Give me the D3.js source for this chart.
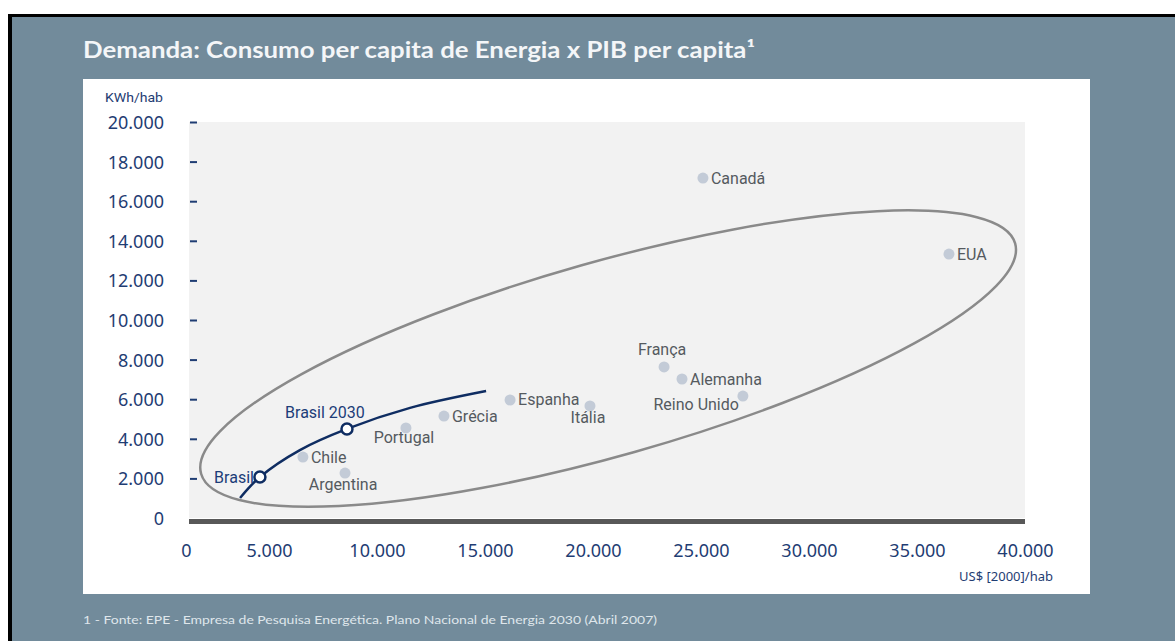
<!DOCTYPE html>
<html>
<head>
<meta charset="utf-8">
<script src="https://cdn.jsdelivr.net/npm/d3@7"></script>
<style>
  body { margin: 0; background: #fff; }
  svg { display: block; }
</style>
</head>
<body>
<div id="chart"></div>
<script>
// countries (grey dots)
var countries = ['Chile', 'Argentina', 'Portugal', 'Grécia', 'Espanha', 'Itália',
	'França', 'Alemanha', 'Reino Unido', 'Canadá', 'EUA'];
var pibPerCapita = [6570, 8520, 11340, 13100, 16160, 19860, 23290, 24120, 26940, 25090, 36480];
var consumoPerCapita = [3080, 2270, 4550, 5150, 5960, 5660, 7630, 7020, 6160, 17170, 13330];
var labelSide = ['right', 'below', 'below', 'right', 'right', 'below',
	'above', 'right', 'left', 'right', 'right'];

// Brasil trajectory
var brasilPib = [3660, 4580, 6430, 8610, 11530, 15050];
var brasilConsumo = [1010, 2070, 3430, 4500, 5560, 6410];
var brasilMarks = ['Brasil', 'Brasil 2030'];
var brasilMarkPib = [4580, 8610];
var brasilMarkConsumo = [2070, 4500];

var xTicks = [0, 5000, 10000, 15000, 20000, 25000, 30000, 35000, 40000];
var yTicks = [0, 2000, 4000, 6000, 8000, 10000, 12000, 14000, 16000, 18000, 20000];

// cluster ellipse (centre in data units)
var clusterCentre = [20700, 8050];

var W = 1175, H = 641;
var navy = '#0f2d62', tickBlue = '#1f3d73', dotGrey = '#c3cbd7', labelGrey = '#555a5f';

var ptBR = d3.formatLocale({ decimal: ',', thousands: '.', grouping: [3], currency: ['', ''] });
var fmt = ptBR.format(',');

var svg = d3.select('#chart').append('svg').attr('width', W).attr('height', H);

// frame + slide background
svg.append('rect').attr('x', 8).attr('y', 14).attr('width', W - 8).attr('height', H - 14).attr('fill', '#000');
svg.append('rect').attr('x', 12).attr('y', 17).attr('width', W - 12).attr('height', H - 17).attr('fill', '#728b9b');

svg.append('text')
	.attr('x', 83).attr('y', 58)
	.attr('fill', '#f4f6f8')
	.attr('font-family', 'Lato, "Open Sans", sans-serif')
	.attr('font-weight', 'bold')
	.attr('font-size', 23)
	.attr('textLength', 672)
	.attr('lengthAdjust', 'spacingAndGlyphs')
	.text('Demanda: Consumo per capita de Energia x PIB per capita¹');

svg.append('text')
	.attr('x', 83).attr('y', 624)
	.attr('fill', '#dfe6eb')
	.attr('font-family', 'Lato, "Open Sans", sans-serif')
	.attr('font-size', 11)
	.attr('textLength', 574)
	.attr('lengthAdjust', 'spacingAndGlyphs')
	.text('1 - Fonte: EPE - Empresa de Pesquisa Energética. Plano Nacional de Energia 2030 (Abril 2007)');

// white panel
svg.append('rect').attr('x', 83).attr('y', 79).attr('width', 1007).attr('height', 515).attr('fill', '#fff');

// scales
var x = d3.scaleLinear().domain([0, 40000]).range([161, 1025]);
var y = d3.scaleLinear().domain([0, 20000]).range([518, 122]);

// plot background
svg.append('rect').attr('x', 189).attr('y', y(20000))
	.attr('width', 1025 - 189).attr('height', y(0) - y(20000))
	.attr('fill', '#f2f2f2');
svg.append('rect').attr('x', 189).attr('y', y(0) + 1)
	.attr('width', 1025 - 189).attr('height', 5)
	.attr('fill', '#585858');

// y axis
var yAxis = d3.axisLeft(y).tickValues(yTicks).tickFormat(fmt).tickSize(7).tickPadding(26);
var gy = svg.append('g').attr('transform', 'translate(197,0)').call(yAxis);
gy.select('.domain').remove();
gy.selectAll('.tick line').attr('stroke', tickBlue).attr('stroke-width', 2);
gy.selectAll('.tick').filter(function (d) { return d === 0; }).select('line').remove();
gy.selectAll('.tick text')
	.attr('fill', tickBlue)
	.attr('font-family', '"Noto Sans", sans-serif')
	.attr('font-size', 18)
	.attr('dy', '0.36em');

svg.append('text').attr('x', 105).attr('y', 102)
	.attr('fill', tickBlue)
	.attr('font-family', 'Roboto, sans-serif')
	.attr('font-size', 13.5)
	.attr('textLength', 58)
	.attr('lengthAdjust', 'spacingAndGlyphs')
	.text('KWh/hab');

// x axis
var xAxis = d3.axisBottom(x).tickValues(xTicks).tickFormat(fmt).tickSize(0).tickPadding(0);
var gx = svg.append('g').attr('transform', 'translate(0,' + 551 + ')').call(xAxis);
gx.select('.domain').remove();
gx.selectAll('.tick text')
	.attr('fill', tickBlue)
	.attr('font-family', '"Noto Sans", sans-serif')
	.attr('font-size', 18)
	.attr('dy', '0.36em')
	.attr('dx', function (d) { return d === 0 ? 25 : 0; });

svg.append('text').attr('x', 1053).attr('y', 581)
	.attr('text-anchor', 'end')
	.attr('fill', tickBlue)
	.attr('font-family', '"Noto Sans", sans-serif')
	.attr('font-size', 13)
	.text('US$ [2000]/hab');

// cluster ellipse
svg.append('ellipse')
	.attr('transform', 'translate(' + x(clusterCentre[0]) + ',' + y(clusterCentre[1]) + ') rotate(-15.8)')
	.attr('rx', 423).attr('ry', 97)
	.attr('fill', 'none')
	.attr('stroke', '#8a8a8a')
	.attr('stroke-width', 2.5);

// countries
var pts = countries.map(function (c, i) {
	return { name: c, pib: pibPerCapita[i], kwh: consumoPerCapita[i], side: labelSide[i] };
});

svg.append('g').selectAll('circle')
	.data(pts).enter().append('circle')
	.attr('cx', function (d) { return x(d.pib); })
	.attr('cy', function (d) { return y(d.kwh); })
	.attr('r', 5.5)
	.attr('fill', dotGrey);

svg.append('g').selectAll('text')
	.data(pts).enter().append('text')
	.attr('x', function (d) {
		var px = x(d.pib);
		if (d.side === 'right') return px + 8;
		if (d.side === 'left') return px - 4;
		return px - 2;
	})
	.attr('y', function (d) {
		var py = y(d.kwh);
		if (d.side === 'below') return py + 17 + (d.name === 'Portugal' ? -2 : 0);
		if (d.side === 'above') return py - 12;
		if (d.side === 'left') return py + 14;
		return py + 5.5;
	})
	.attr('text-anchor', function (d) {
		if (d.side === 'right') return 'start';
		if (d.side === 'left') return 'end';
		return 'middle';
	})
	.attr('fill', labelGrey)
	.attr('font-family', 'Roboto, sans-serif')
	.attr('font-size', 16)
	.text(function (d) { return d.name; });

// Brasil line
var line = d3.line()
	.x(function (d) { return x(d[0]); })
	.y(function (d) { return y(d[1]); })
	.curve(d3.curveCatmullRom);

svg.append('path')
	.datum(brasilPib.map(function (p, i) { return [p, brasilConsumo[i]]; }))
	.attr('d', line)
	.attr('fill', 'none')
	.attr('stroke', navy)
	.attr('stroke-width', 2.5);

svg.append('g').selectAll('circle')
	.data(brasilMarks).enter().append('circle')
	.attr('cx', function (d, i) { return x(brasilMarkPib[i]); })
	.attr('cy', function (d, i) { return y(brasilMarkConsumo[i]); })
	.attr('r', 5.5)
	.attr('fill', '#fff')
	.attr('stroke', navy)
	.attr('stroke-width', 2.5);

svg.append('g').selectAll('text')
	.data(brasilMarks).enter().append('text')
	.attr('x', function (d, i) { return i === 0 ? x(brasilMarkPib[i]) - 6 : x(brasilMarkPib[i]) - 22; })
	.attr('y', function (d, i) { return i === 0 ? y(brasilMarkConsumo[i]) + 6 : y(brasilMarkConsumo[i]) - 11; })
	.attr('text-anchor', function (d, i) { return i === 0 ? 'end' : 'middle'; })
	.attr('fill', '#1c3d78')
	.attr('font-family', 'Roboto, sans-serif')
	.attr('font-size', 16)
	.text(function (d) { return d; });
</script>
</body>
</html>
